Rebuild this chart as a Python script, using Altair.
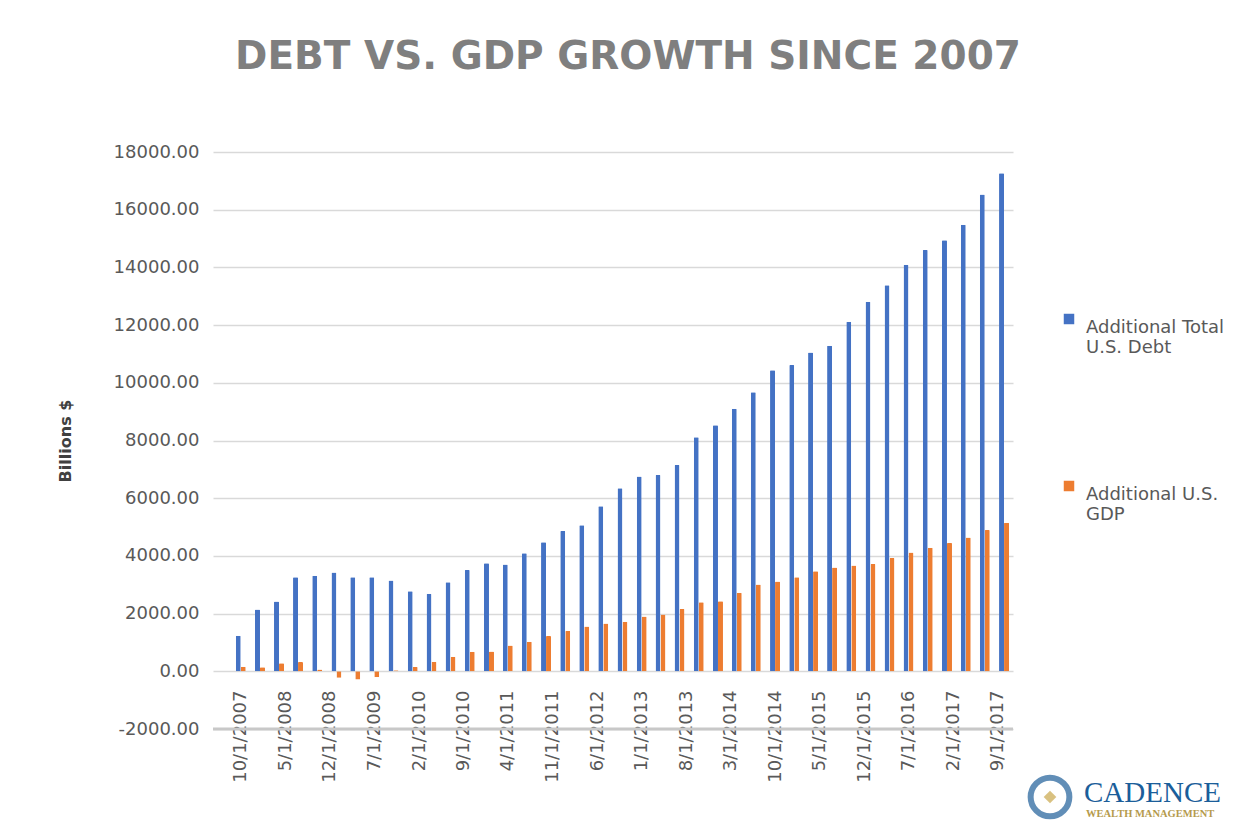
import altair as alt
import pandas as pd

# ---------------- data ----------------
quarters = [f"{y}-{m:02d}-01" for y in range(2007, 2018) for m in (1, 4, 7, 10)]
quarters = [q for q in quarters if "2007-10-01" <= q <= "2017-10-01"]

debt = [1234, 2143, 2423, 3262, 3311, 3427, 3262, 3262, 3147, 2773,
        2692, 3087, 3507, 3741, 3706, 4091, 4469, 4866, 5064, 5718,
        6348, 6756, 6803, 7153, 8110, 8530, 9102, 9673, 10432, 10618,
        11050, 11280, 12120, 12810, 13380, 14090, 14600, 14940, 15480, 16530, 17260]

gdp = [155, 140, 275, 320, 65, -225, -285, -205, 40, 152,
       330, 508, 676, 684, 892, 1020, 1225, 1400, 1552, 1657,
       1715, 1902, 1972, 2159, 2392, 2427, 2719, 3011, 3116, 3256,
       3466, 3600, 3669, 3716, 3929, 4118, 4284, 4450, 4639, 4899, 5148]

series_names = ["Additional Total U.S. Debt", "Additional U.S. GDP"]
series_colors = ["#4472C4", "#ED7D31"]

tick_dates = [(2007, 10), (2008, 5), (2008, 12), (2009, 7), (2010, 2), (2010, 9),
              (2011, 4), (2011, 11), (2012, 6), (2013, 1), (2013, 8), (2014, 3),
              (2014, 10), (2015, 5), (2015, 12), (2016, 7), (2017, 2), (2017, 9)]

y_ticks = [-2000, 0, 2000, 4000, 6000, 8000, 10000, 12000, 14000, 16000, 18000]

title_text = "DEBT VS. GDP GROWTH SINCE 2007"
y_title = "Billions $"
logo_name = ["CADENCE"]
logo_sub = ["WEALTH MANAGEMENT"]

# ---------------- table ----------------
df = pd.DataFrame({
    "date": quarters * 2,
    "value": debt + gdp,
    "series": [series_names[0]] * len(quarters) + [series_names[1]] * len(quarters),
})

GRAY = "#595959"
FONT = "DejaVu Sans"

x_enc = alt.X(
    "date:T",
    scale=alt.Scale(type="utc",
                    domain=[alt.DateTime(year=2007, month=6, date=14, utc=True),
                            alt.DateTime(year=2017, month=10, date=20, utc=True)]),
    axis=alt.Axis(
        values=[alt.DateTime(year=y, month=m, date=1, utc=True) for y, m in tick_dates],
        labelExpr="utcFormat(datum.value, '%-m/%-d/%Y')",
        labelAngle=270, labelAlign="right", labelBaseline="middle",
        labelFont=FONT, labelFontSize=18, labelColor=GRAY,
        labelPadding=0, ticks=False, tickSize=0, domain=False, grid=False,
        offset=-39, title=None, labelOverlap=False,
    ),
)

y_axis = alt.Axis(
    values=y_ticks,
    labelExpr="(datum.value < 0 ? '-' : '') + format(abs(datum.value), '.2f')",
    labelFont=FONT, labelFontSize=18, labelColor=GRAY, labelPadding=14,
    ticks=False, domain=False,
    grid=True, gridColor="#d9d9d9", gridWidth=1.5,
    title=y_title, titleFont=FONT, titleFontSize=16, titleFontWeight="bold",
    titleColor="#404040", titlePadding=40,
)
y_scale = alt.Scale(domain=[-2000, 18000], nice=False, zero=False)
y_enc = alt.Y("value:Q", scale=y_scale, axis=y_axis)

color_enc = alt.Color(
    "series:N",
    scale=alt.Scale(domain=series_names, range=series_colors),
    legend=alt.Legend(
        title=None, orient="none", legendX=847, legendY=158,
        symbolType="square", symbolSize=110, symbolStrokeWidth=0,
        labelFont=FONT, labelFontSize=18, labelColor=GRAY,
        labelExpr=("datum.label == 'Additional Total U.S. Debt' ? "
                   "['Additional Total', 'U.S. Debt'] : ['Additional U.S.', 'GDP']"),
        labelBaseline="top", labelOffset=8, rowPadding=120, labelLimit=300,
    ),
)

base = alt.Chart(df).encode(x=x_enc, y=y_enc, color=color_enc)

debt_bars = base.transform_filter(alt.datum.series == series_names[0]).mark_bar(
    width=5, xOffset=-2.5, cornerRadiusTopLeft=1, cornerRadiusTopRight=1)
gdp_bars = base.transform_filter(alt.datum.series == series_names[1]).mark_bar(
    width=5, xOffset=2.5, cornerRadiusTopLeft=1, cornerRadiusTopRight=1)

bottom_line = alt.Chart(pd.DataFrame({"value": [y_ticks[0]]})).mark_rule(
    color="#c8c8c8", strokeWidth=3).encode(y=alt.Y("value:Q", scale=y_scale, axis=y_axis))

logo_ring = alt.Chart(pd.DataFrame({"t": logo_name})).mark_point(
    shape="circle", size=1500, filled=False, stroke="#1f5f9a", strokeWidth=6).encode(
    x=alt.value(837), y=alt.value(645))
logo_sun = alt.Chart(pd.DataFrame({"t": logo_name})).mark_point(
    shape="diamond", size=160, filled=True, color="#c9a64a").encode(
    x=alt.value(837), y=alt.value(645))
logo_main = alt.Chart(pd.DataFrame({"t": logo_name})).mark_text(
    font="Liberation Serif", fontSize=29, color="#1b5e9a", align="left",
    baseline="alphabetic").encode(x=alt.value(871), y=alt.value(650), text="t:N")
logo_small = alt.Chart(pd.DataFrame({"t": logo_sub})).mark_text(
    font="Liberation Serif", fontSize=10.5, fontWeight="bold", color="#b59a4c",
    align="left", baseline="alphabetic").encode(x=alt.value(873), y=alt.value(665), text="t:N")

chart = alt.layer(bottom_line, debt_bars, gdp_bars, logo_ring, logo_sun, logo_main, logo_small).properties(
    width=800, height=577,
    autosize=alt.AutoSizeParams(type="none"),
    padding={"left": 205, "top": 144, "right": 229, "bottom": 96},
    background="white",
    title=alt.TitleParams(title_text, font=FONT, fontSize=39, fontWeight="bold",
                          color="#7f7f7f", anchor="middle", dx=15, offset=66),
).configure_view(stroke=None)

chart.save("out.html", embed_options={"renderer": "svg", "actions": False})
